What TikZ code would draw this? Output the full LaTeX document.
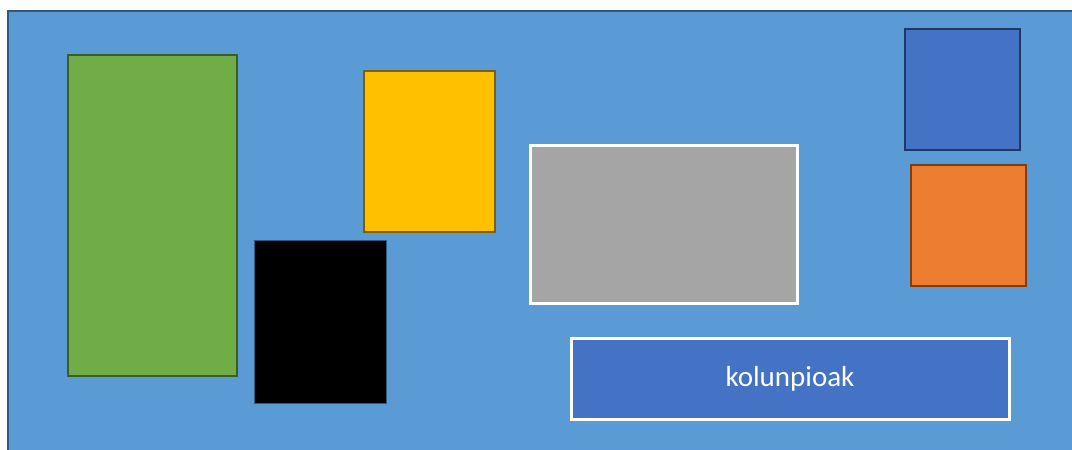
\documentclass[tikz,border=0pt]{standalone}
\usepackage{fontspec}
\setmainfont{Carlito}
\usepackage{xcolor}
\usepackage{tikz}
\definecolor{zerua}{HTML}{5B9BD5}
\definecolor{zeruilun}{HTML}{2E5B85}
\definecolor{berde}{HTML}{70AD47}
\definecolor{berdeilun}{HTML}{3B5E25}
\definecolor{hori}{HTML}{FFC000}
\definecolor{horiilun}{HTML}{7F6000}
\definecolor{urdin}{HTML}{4472C4}
\definecolor{urdinilun}{HTML}{203864}
\definecolor{laranja}{HTML}{ED7D31}
\definecolor{laranjailun}{HTML}{843C0C}
\definecolor{gris}{HTML}{A5A5A5}

\begin{document}
\begin{tikzpicture}[x=1pt, y=-1pt,
  blokea/.style={draw, anchor=north west, inner sep=0pt, outer sep=0pt}]
  \useasboundingbox (0,0) rectangle (1072,450);
  \node[blokea, fill=zerua, draw=zeruilun, line width=2pt, minimum width=1080pt, minimum height=450pt] (lorategia) at (8,11) {};
  \node[blokea, fill=berde, draw=berdeilun, line width=2pt, minimum width=169pt, minimum height=321pt] (berdea) at (68,55) {};
  \node[blokea, fill=hori, draw=horiilun, line width=2pt, minimum width=131pt, minimum height=161pt] (horia) at (364,71) {};
  \node[blokea, fill=black, draw=zeruilun, line width=0.8pt, minimum width=132pt, minimum height=163pt] (beltza) at (254,240) {};
  \node[blokea, fill=gris, draw=white, line width=3pt, minimum width=267pt, minimum height=158pt] (grisa) at (530,145) {};
  \node[blokea, fill=urdin, draw=urdinilun, line width=2.5pt, minimum width=115pt, minimum height=121pt] (urdina) at (905,29) {};
  \node[blokea, fill=laranja, draw=laranjailun, line width=2.5pt, minimum width=115pt, minimum height=121pt] (laranja) at (911,165) {};
  \node[blokea, fill=urdin, draw=white, line width=3pt, minimum width=438pt, minimum height=81pt,
    text=white, font=\fontsize{29}{35}\selectfont] (kolunpioak) at (571,338) {kolunpioak};
\end{tikzpicture}
\end{document}
